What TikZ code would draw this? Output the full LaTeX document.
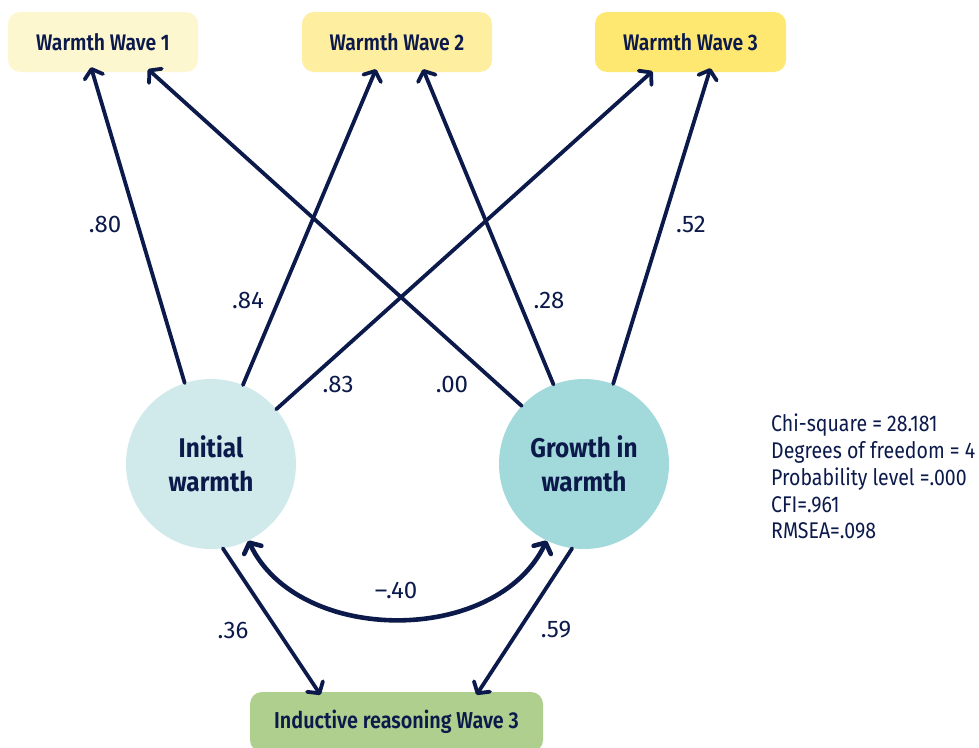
\documentclass[tikz,border=0pt]{standalone}
\usepackage{fontspec}
\setmainfont{Fira Sans}[FakeStretch=0.86]
\newfontfamily\coeff{Fira Sans}
\newfontfamily\boldf{Fira Sans SemiBold}[FakeStretch=0.86]
\newfontfamily\boldc{Fira Sans Bold}[FakeStretch=0.90]
\usetikzlibrary{arrows.meta}
\definecolor{navy}{HTML}{0C1A4B}
\definecolor{wone}{HTML}{FDF7D0}
\definecolor{wtwo}{HTML}{FEEEA0}
\definecolor{wthree}{HTML}{FEE872}
\definecolor{cinit}{HTML}{D0EAEC}
\definecolor{cgrow}{HTML}{A2D9DA}
\definecolor{cind}{HTML}{AECF8E}
\tikzset{
  box/.style={rounded corners=12pt, minimum height=60pt, text=navy, inner sep=0pt, font=\boldf\fontsize{22.5pt}{26pt}\selectfont},
  latent/.style={circle, minimum size=170pt, inner sep=0pt, text=navy, align=center, font=\boldc\fontsize{27pt}{34pt}\selectfont},
  conn/.style={draw=navy, line width=3.8pt, line cap=round, -{Straight Barb[length=8pt,width=19pt,line cap=round,line join=round]}},
  coef/.style={text=navy, inner sep=0pt, font=\coeff\fontsize{24pt}{28pt}\selectfont},
}
\begin{document}
\begin{tikzpicture}[x=1pt,y=-1pt]
\useasboundingbox[fill=white] (0,0) rectangle (979,747);
\begin{scope}
\clip (0,0) rectangle (979,747);
% boxes
\node[box, fill=wone, minimum width=190pt] (w1) at (103,42) {Warmth Wave 1};
\node[box, fill=wtwo, minimum width=190pt] (w2) at (397,42) {Warmth Wave 2};
\node[box, fill=wthree, minimum width=191pt] (w3) at (690.5,42) {Warmth Wave 3};
\node[box, fill=cind, minimum width=293pt, font=\boldf\fontsize{23pt}{26pt}\selectfont] (ind) at (396.5,722) {Inductive reasoning Wave 3};
% latent
\node[latent, fill=cinit] (iw) at (211,464) {Initial\\warmth};
\node[latent, fill=cgrow] (gw) at (584,464) {Growth in\\warmth};
% connectors
\draw[conn] (iw.108) -- ([xshift=-12pt,yshift=5pt]w1.south);
\draw[conn] (gw.137) -- ([xshift=45pt,yshift=3pt]w1.south);
\draw[conn] (iw.68) -- ([xshift=-21pt,yshift=3pt]w2.south);
\draw[conn] (gw.111) -- ([xshift=26pt,yshift=3pt]w2.south);
\draw[conn] (iw.40) -- ([xshift=-38pt,yshift=1pt]w3.south);
\draw[conn] (gw.70) -- ([xshift=20pt,yshift=4pt]w3.south);
\draw[conn] (iw.-82) -- ([xshift=-76pt,yshift=-3pt]ind.north);
\draw[conn] (gw.-98) -- ([xshift=80pt,yshift=-3pt]ind.north);
\draw[conn, line width=4.6pt, {Straight Barb[length=8pt,width=19pt,line cap=round,line join=round]}-{Straight Barb[length=8pt,width=19pt,line cap=round,line join=round]}]
  (iw.-64) .. controls +(50,105) and +(-50,105) .. (gw.-116);
% coefficients
\node[coef] (c80) at (105,224) {.80};
\node[coef] (c84) at (248,300) {.84};
\node[coef] (c83) at (338,384) {.83};
\node[coef] (c00) at (452,384) {.00};
\node[coef] (c28) at (549,300) {.28};
\node[coef] (c52) at (691,224) {.52};
\node[coef] (c40) at (396,590) {\textendash.40};
\node[coef] (c36) at (233,630) {.36};
\node[coef] (c59) at (556,630) {.59};
% fit statistics
\node[anchor=north west, inner sep=0pt, text=navy, align=left, font=\fontsize{22.7pt}{26.7pt}\selectfont] (fit) at (771,414)
  {Chi-square = 28.181\\Degrees of freedom = 4\\Probability level =.000\\CFI=.961\\RMSEA=.098};
\end{scope}
\end{tikzpicture}
\end{document}
